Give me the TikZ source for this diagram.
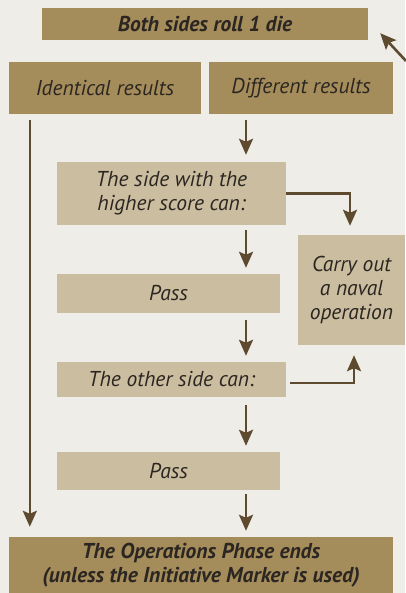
\documentclass[tikz,border=0pt]{standalone}
\usepackage{fontspec}
\setmainfont{PT Sans}
\usepackage{tikz}
\usetikzlibrary{calc}
\usetikzlibrary{arrows.meta}
\definecolor{paper}{HTML}{EFEDE8}
\definecolor{darktan}{HTML}{A58C5B}
\definecolor{lighttan}{HTML}{CBBD9F}
\definecolor{arrowbrown}{HTML}{5E4B2F}
\definecolor{inkbrown}{HTML}{2B2621}

\tikzset{
  box/.style={inner sep=0pt, align=center, text=inkbrown, font=\fontsize{21.5}{24}\selectfont\itshape},
  darkbox/.style={box, fill=darktan},
  lightbox/.style={box, fill=lighttan},
  flow/.style={draw=arrowbrown, line width=2.6pt, -{Stealth[length=16pt,width=14pt,inset=3pt]}},
}

\begin{document}
\begin{tikzpicture}[x=1pt, y=-1pt]
  \fill [paper] (0,0) rectangle (405,593); % fond
  \useasboundingbox (0,0) rectangle (405,593);

  % boites
  \node [darkbox, minimum width=326pt, minimum height=32pt, font=\fontsize{21.5}{24}\selectfont\bfseries\itshape] (roll) at (205,24) {Both sides roll 1 die};
  \node [darkbox, minimum width=192pt, minimum height=52pt] (ident) at (105,88) {Identical results};
  \node [darkbox, minimum width=184pt, minimum height=52pt] (diff) at (301,88) {Different results};
  \node [lightbox, minimum width=229pt, minimum height=63pt] (higher) at (171.5,193.5) {The side with the\\higher score can:};
  \node [lightbox, minimum width=223pt, minimum height=39pt] (passA) at (168.5,293.5) {Pass};
  \node [lightbox, minimum width=229pt, minimum height=35pt] (other) at (171.5,379.5) {The other side can:};
  \node [lightbox, minimum width=223pt, minimum height=38pt] (passB) at (168.5,471) {Pass};
  \node [lightbox, minimum width=107pt, minimum height=110pt] (carry) at (351.5,290) {Carry out\\a naval\\operation};
  \node [darkbox, minimum width=384pt, minimum height=56pt, font=\fontsize{21.5}{24.5}\selectfont\bfseries\itshape] (ends) at (201,565) {The Operations Phase ends\\(unless the Initiative Marker is used)};

  \coordinate (col) at (246,0); % colonne des fleches
  \coordinate (loop) at (406,61);

  % fleches
  \draw [flow] ([xshift=21pt]ident.south west) ++(0,6) -- ([xshift=21pt,yshift=10pt]ident.south west |- ends.north);
  \draw [flow, shorten <=6pt, shorten >=7pt] (diff.south -| col) -- (higher.north -| col);
  \draw [flow, shorten <=5pt, shorten >=6pt] (higher.south -| col) -- (passA.north -| col);
  \draw [flow, shorten <=7pt, shorten >=6pt] (passA.south -| col) -- (other.north -| col);
  \draw [flow, shorten <=8pt, shorten >=6pt] (other.south -| col) -- (passB.north -| col);
  \draw [flow, shorten <=4pt, shorten >=6pt] (passB.south -| col) -- (ends.north -| col);
  \draw [flow, shorten >=9pt] (higher.east) -| ([xshift=-1.5pt]carry.north);
  \draw [flow, shorten <=4pt, shorten >=10pt] (other.east |- 0,383) -| ([xshift=2.5pt]carry.south);
  \draw [flow] (loop) -- ([shift={(12,-7)}]roll.south east);
\end{tikzpicture}
\end{document}
